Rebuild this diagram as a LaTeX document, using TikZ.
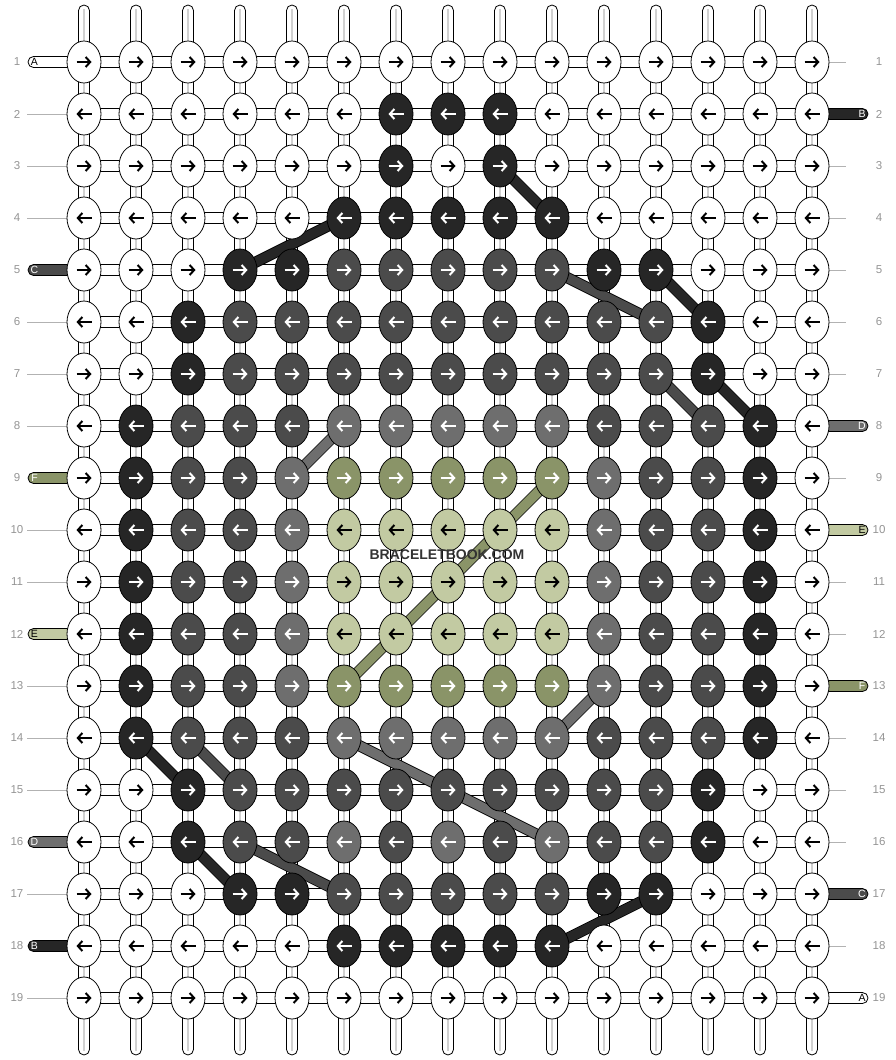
\documentclass[tikz,border=0pt]{standalone}
\usepackage{fontspec}
\setmainfont{Liberation Sans}
\usetikzlibrary{shapes.geometric,arrows.meta,backgrounds}
\definecolor{cW}{HTML}{FFFFFF}
\definecolor{cD}{HTML}{262626}
\definecolor{cM}{HTML}{4B4B4B}
\definecolor{cG}{HTML}{6E6E6E}
\definecolor{cO}{HTML}{8A9468}
\definecolor{cL}{HTML}{C2CAA2}
\colorlet{aW}{black}
\colorlet{aL}{black}
\colorlet{aD}{white}
\colorlet{aM}{white}
\colorlet{aG}{white}
\colorlet{aO}{white}
\definecolor{wmark}{HTML}{333333}
\tikzset{
  knot/.style={ellipse, draw=black, line width=0.8pt, minimum width=34pt, minimum height=42pt, inner sep=0pt},
  arr/.style={line width=2pt, -{Straight Barb[length=4.5pt,width=10pt]}},
  conn/.style={draw=black, fill=white, line width=0.8pt},
  midline/.style={draw=black!18, line width=1.5pt},
  edgeline/.style={draw=black!30, line width=0.8pt},
  estrand/.style={draw=black, line width=0.8pt, rounded corners=5.5pt},
  num/.style={text=black!42, font=\fontsize{11.5}{12}\selectfont, inner sep=0pt},
  slbl/.style={font=\fontsize{10.5}{11}\selectfont, inner sep=0pt},
  thr/.style={line width=9.6pt},
  throut/.style={line width=11.2pt, draw=black},
}
\begin{document}
\begin{tikzpicture}[x=1pt,y=-1pt]
\useasboundingbox (0,0) rectangle (896,1060);
% knots
\foreach \row [count=\j] in {
 {W,W,W,W,W,W,W,W,W,W,W,W,W,W,W},
 {W,W,W,W,W,W,D,D,D,W,W,W,W,W,W},
 {W,W,W,W,W,W,D,W,D,W,W,W,W,W,W},
 {W,W,W,W,W,D,D,D,D,D,W,W,W,W,W},
 {W,W,W,D,D,M,M,M,M,M,D,D,W,W,W},
 {W,W,D,M,M,M,M,M,M,M,M,M,D,W,W},
 {W,W,D,M,M,M,M,M,M,M,M,M,D,W,W},
 {W,D,M,M,M,G,G,G,G,G,M,M,M,D,W},
 {W,D,M,M,G,O,O,O,O,O,G,M,M,D,W},
 {W,D,M,M,G,L,L,L,L,L,G,M,M,D,W},
 {W,D,M,M,G,L,L,L,L,L,G,M,M,D,W},
 {W,D,M,M,G,L,L,L,L,L,G,M,M,D,W},
 {W,D,M,M,G,O,O,O,O,O,G,M,M,D,W},
 {W,D,M,M,M,G,G,G,G,G,M,M,M,D,W},
 {W,W,D,M,M,M,M,M,M,M,M,M,D,W,W},
 {W,W,D,M,M,G,M,G,M,G,M,M,D,W,W},
 {W,W,W,D,D,M,M,M,M,M,D,D,W,W,W},
 {W,W,W,W,W,D,D,D,D,D,W,W,W,W,W},
 {W,W,W,W,W,W,W,W,W,W,W,W,W,W,W}}{
  \foreach \c [count=\i] in \row {
    \node[knot, fill=c\c] (k-\i-\j) at ({84+52*(\i-1)},{62+52*(\j-1)}) {};
    \ifodd\j
      \draw[arr, draw=a\c] ([xshift=-7.5pt]k-\i-\j.center) -- ([xshift=7.5pt]k-\i-\j.center);
    \else
      \draw[arr, draw=a\c] ([xshift=7.5pt]k-\i-\j.center) -- ([xshift=-7.5pt]k-\i-\j.center);
    \fi
  }
}
% row numbers
\foreach \j in {1,...,19}{
  \node[num] (ln-\j) at (17,{62+52*(\j-1)}) {\j};
  \node[num] (rn-\j) at (879,{62+52*(\j-1)}) {\j};
}
\begin{pgfonlayer}{background}
  % vertical connectors and stubs
  \foreach \i in {1,...,15}{
    \foreach \j [evaluate=\j as \n using int(\j+1)] in {1,...,18}{
      \draw[conn] ([xshift=-5.5pt]k-\i-\j.center) rectangle ([xshift=5.5pt]k-\i-\n.center);
      \draw[midline] (k-\i-\j.center) -- (k-\i-\n.center);
    }
    \draw[conn, rounded corners=5.5pt] ([xshift=-5.5pt]k-\i-1.center) rectangle ([xshift=5.5pt,yshift=57pt]k-\i-1.center);
    \draw[midline] (k-\i-1.center) -- ([yshift=53pt]k-\i-1.center);
    \draw[conn, rounded corners=5.5pt] ([xshift=-5.5pt]k-\i-19.center) rectangle ([xshift=5.5pt,yshift=-57pt]k-\i-19.center);
    \draw[midline] (k-\i-19.center) -- ([yshift=-53pt]k-\i-19.center);
  }
  % horizontal connectors
  \foreach \j in {1,...,19}{
    \foreach \i [evaluate=\i as \n using int(\i+1)] in {1,...,14}{
      \draw[conn] ([yshift=5.3pt]k-\i-\j.center) rectangle ([yshift=-5.3pt]k-\n-\j.center);
    }
  }
  % edge lines
  \foreach \j in {2,3,4,6,7,8,10,11,13,14,15,17,19}{
    \draw[edgeline] (k-1-\j.west) -- ++(-40,0);
  }
  \foreach \j in {1,3,4,5,6,7,9,11,12,14,15,16,18}{
    \draw[edgeline] (k-15-\j.east) -- ++(17,0);
  }
  % edge strands
  \foreach \j/\c/\t in {1/W/A,5/M/C,9/O/F,12/L/E,16/G/D,18/D/B}{
    \draw[estrand, fill=c\c] ([yshift=5.5pt]k-1-\j.center) rectangle ([yshift=-5.5pt,xshift=-56pt]k-1-\j.center);
    \node[slbl, text=a\c] (ls-\j) at ([xshift=-49.5pt]k-1-\j.center) {\t};
  }
  \foreach \j/\c/\t in {2/D/B,8/G/D,10/L/E,13/O/F,17/M/C,19/W/A}{
    \draw[estrand, fill=c\c] ([yshift=5.5pt]k-15-\j.center) rectangle ([yshift=-5.5pt,xshift=56pt]k-15-\j.center);
    \node[slbl, text=a\c] (rs-\j) at ([xshift=50pt]k-15-\j.center) {\t};
  }
  % thread paths
  \foreach \a/\b/\c in {9-3/10-4/D, 6-4/4-5/D, 10-5/12-6/M, 12-5/13-6/D, 12-7/13-8/M, 13-7/14-8/D,
      6-8/5-9/G, 10-9/6-13/O, 11-13/10-14/G, 2-14/3-15/D, 3-14/4-15/M, 6-14/10-16/G,
      3-16/4-17/D, 4-16/6-17/M, 12-17/10-18/D}{
    \draw[throut] (k-\a.center) -- (k-\b.center);
    \draw[thr, draw=c\c] (k-\a.center) -- (k-\b.center);
  }
\end{pgfonlayer}
\node[text=wmark, font=\bfseries\fontsize{14}{14}\selectfont, inner sep=0pt] (wm) at (447,555) {BRACELETBOOK.COM};
\end{tikzpicture}
\end{document}
